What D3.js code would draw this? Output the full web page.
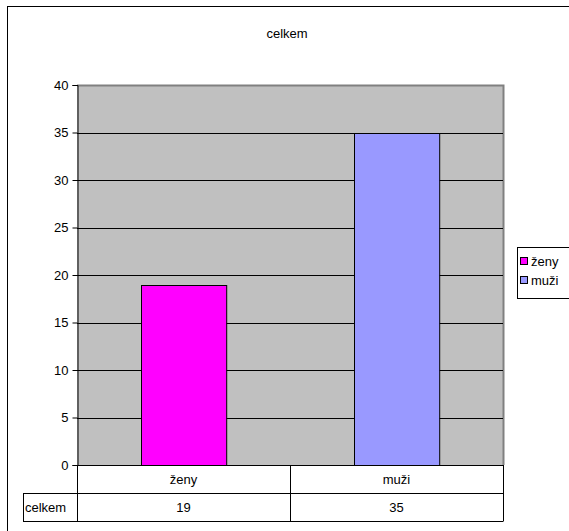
<!DOCTYPE html>
<meta charset="utf-8">
<script src="https://d3js.org/d3.v7.min.js"></script>
<style>
  body { margin: 0; background: #fff; }
  svg text { font-family: "Liberation Sans", Arial, sans-serif; font-size: 13px; fill: #000; }
</style>
<body>
<svg id="chart" width="569" height="531"></svg>
</body>
<script>
var categories = ["ženy", "muži"];
var values = [19, 35];
var colors = ["#ff00ff", "#9999ff"];
var seriesName = "celkem";
var yTicks = [0, 5, 10, 15, 20, 25, 30, 35, 40];

var plot = {left: 77, right: 503, top: 85, bottom: 465};

var svg = d3.select("#chart");

// outer chart frame (runs past the window edges)
svg.append("rect")
    .attr("x", 7.5).attr("y", 6.5)
    .attr("width", 600).attr("height", 600)
    .attr("fill", "#fff").attr("stroke", "#000").attr("stroke-width", 1);

svg.append("text")
    .attr("x", 287).attr("y", 38)
    .attr("text-anchor", "middle")
    .text(seriesName);

var x = d3.scaleBand().domain(categories)
    .range([plot.left, plot.right])
    .paddingInner(0.6).paddingOuter(0.3);
var xCell = d3.scaleBand().domain(categories).range([plot.left, plot.right]);
var y = d3.scaleLinear().domain([0, 40]).range([plot.bottom, plot.top]);

// plot area
svg.append("rect")
    .attr("x", plot.left).attr("y", plot.top)
    .attr("width", plot.right - plot.left).attr("height", plot.bottom - plot.top)
    .attr("fill", "#c0c0c0");
svg.append("path")
    .attr("d", "M" + plot.left + "," + (plot.top + 0.5) + "H" + (plot.right + 0.5) + "V" + plot.bottom)
    .attr("fill", "none").attr("stroke", "#808080").attr("stroke-width", 2);

// gridlines
svg.append("g").selectAll("line")
    .data(yTicks.filter(function(d) { return d > 0 && d < 40; }))
  .enter().append("line")
    .attr("x1", plot.left).attr("x2", plot.right)
    .attr("y1", function(d) { return Math.round(y(d)) + 0.5; })
    .attr("y2", function(d) { return Math.round(y(d)) + 0.5; })
    .attr("stroke", "#000");

// bars
svg.append("g").selectAll("rect")
    .data(values)
  .enter().append("rect")
    .attr("x", function(d, i) { return Math.round(x(categories[i])) + 0.5; })
    .attr("y", function(d) { return Math.round(y(d)) + 0.5; })
    .attr("width", x.bandwidth())
    .attr("height", function(d) { return y(0) - Math.round(y(d)); })
    .attr("fill", function(d, i) { return colors[i]; })
    .attr("stroke", "#000");

// y axis
var yAxis = svg.append("g")
    .attr("transform", "translate(" + (plot.left + 0.5) + ",0)")
    .call(d3.axisLeft(y).tickValues(yTicks).tickSize(5).tickPadding(4));
yAxis.select(".domain").attr("stroke", "#000");
yAxis.selectAll("text").style("font-size", "13px").attr("font-family", null);

// data table under plot
var row1 = plot.bottom, row2 = 493, row3 = 521, labelLeft = 23;
var tbl = svg.append("g").attr("fill", "none").attr("stroke", "#000");
tbl.append("path").attr("d",
    "M" + plot.left + "," + (row1 + 0.5) + "H" + (plot.right + 0.5) +
    "M" + labelLeft + "," + (row2 + 0.5) + "H" + (plot.right + 0.5) +
    "M" + labelLeft + "," + (row3 + 0.5) + "H" + (plot.right + 0.5) +
    "M" + (plot.left + 0.5) + "," + row1 + "V" + row3 +
    "M" + (labelLeft + 0.5) + "," + row2 + "V" + row3 +
    "M" + (plot.right + 0.5) + "," + row1 + "V" + row3 +
    "M" + (Math.round(xCell("muži")) + 0.5) + "," + row1 + "V" + row3);

svg.append("g").selectAll("text")
    .data(categories)
  .enter().append("text")
    .attr("x", function(d) { return xCell(d) + xCell.bandwidth() / 2; })
    .attr("y", row1 + 19)
    .attr("text-anchor", "middle")
    .text(function(d) { return d; });
svg.append("g").selectAll("text")
    .data(values)
  .enter().append("text")
    .attr("x", function(d, i) { return xCell(categories[i]) + xCell.bandwidth() / 2; })
    .attr("y", row2 + 19)
    .attr("text-anchor", "middle")
    .text(function(d) { return d; });
svg.append("text")
    .attr("x", labelLeft + 2).attr("y", row2 + 19)
    .text(seriesName);

// legend
var legend = svg.append("g");
legend.append("rect")
    .attr("x", 517.5).attr("y", 247.5).attr("width", 80).attr("height", 51)
    .attr("fill", "#fff").attr("stroke", "#000");
var item = legend.selectAll(".item")
    .data(categories)
  .enter().append("g")
    .attr("transform", function(d, i) { return "translate(520," + (257 + i * 19) + ")"; });
item.append("rect")
    .attr("x", 0.5).attr("y", 0.5).attr("width", 7).attr("height", 7)
    .attr("fill", function(d, i) { return colors[i]; })
    .attr("stroke", "#000");
item.append("text")
    .attr("x", 11).attr("y", 9)
    .text(function(d) { return d; });
</script>
